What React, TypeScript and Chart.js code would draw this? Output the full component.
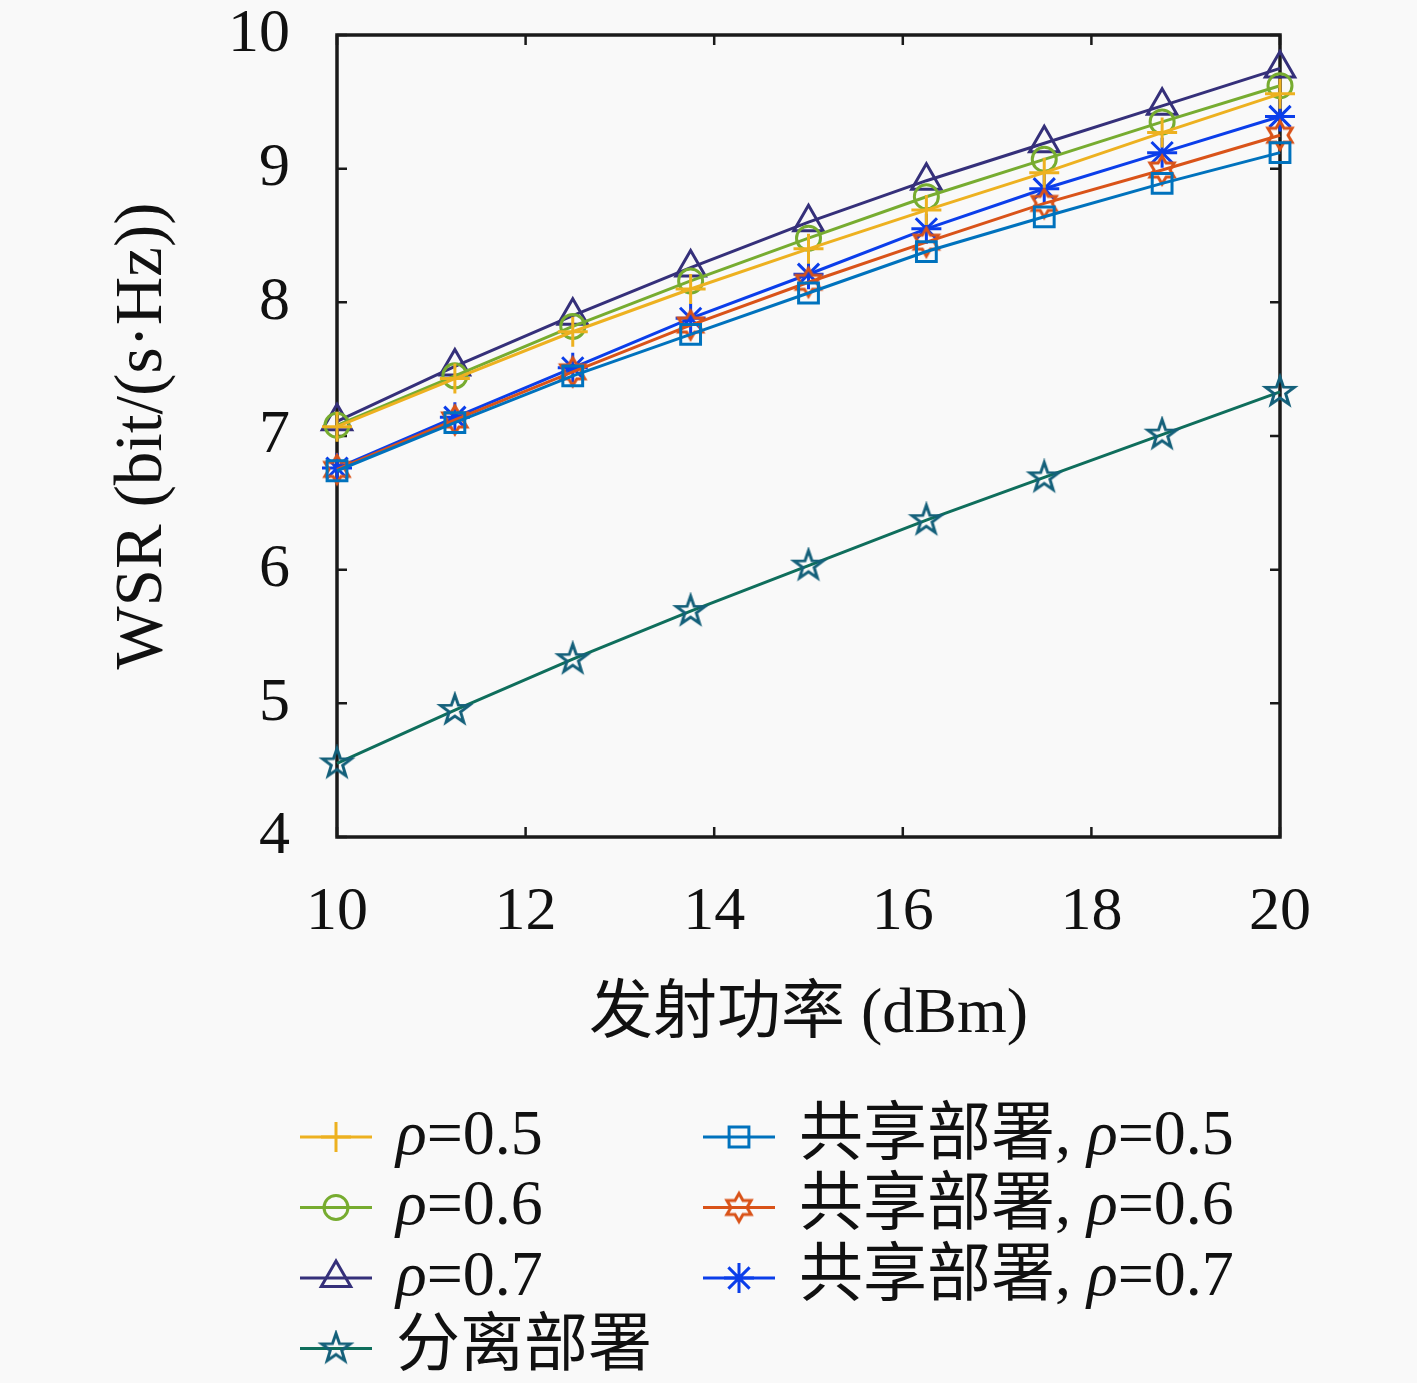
import { useEffect, useRef } from "react";
import { Chart, registerables } from "chart.js";
import { drawPoint } from "chart.js/helpers";

Chart.register(...registerables);

// transmit power (dBm)
const power = [10, 11.25, 12.5, 13.75, 15, 16.25, 17.5, 18.75, 20];

// WSR values, bit/(s·Hz)
const rho05 = [7.07, 7.43, 7.78, 8.1, 8.4, 8.69, 8.97, 9.27, 9.56];
const rho06 = [7.08, 7.45, 7.82, 8.16, 8.48, 8.79, 9.07, 9.35, 9.62];
const rho07 = [7.11, 7.52, 7.9, 8.26, 8.6, 8.91, 9.19, 9.47, 9.75];
const shared05 = [6.74, 7.1, 7.45, 7.76, 8.07, 8.38, 8.64, 8.89, 9.12];
const shared06 = [6.75, 7.12, 7.48, 7.83, 8.15, 8.45, 8.74, 8.99, 9.25];
const shared07 = [6.76, 7.14, 7.51, 7.88, 8.21, 8.55, 8.85, 9.12, 9.39];
const separate = [4.55, 4.95, 5.33, 5.69, 6.03, 6.37, 6.69, 7.01, 7.33];

const labels = [
  "ρ=0.5",
  "ρ=0.6",
  "ρ=0.7",
  "分离部署",
  "共享部署, ρ=0.5",
  "共享部署, ρ=0.6",
  "共享部署, ρ=0.7",
];

const SERIF = "'Liberation Serif', 'Noto Sans CJK SC', serif";
const INK = "#111111";

function starCanvas(points: number, outer: number, inner: number, color: string, lw: number) {
  const size = Math.ceil(outer * 2 + lw * 2 + 2);
  const c = document.createElement("canvas");
  c.width = size;
  c.height = size;
  const g = c.getContext("2d")!;
  g.translate(size / 2, size / 2);
  g.beginPath();
  for (let k = 0; k < points * 2; k++) {
    const r = k % 2 ? inner : outer;
    const a = -Math.PI / 2 + (k * Math.PI) / points;
    g.lineTo(r * Math.cos(a), r * Math.sin(a));
  }
  g.closePath();
  g.strokeStyle = color;
  g.lineWidth = lw;
  g.stroke();
  return c;
}

const toXY = (ys: number[]) => ys.map((v, i) => ({ x: power[i], y: v }));

// draw text where "ρ" is set in italic
function richText(ctx: CanvasRenderingContext2D, text: string, x: number, y: number, size: number) {
  const parts = text.split(/(ρ)/);
  let cx = x;
  for (const p of parts) {
    if (!p) continue;
    ctx.font = p === "ρ" ? `italic ${size}px ${SERIF}` : `${size}px ${SERIF}`;
    ctx.fillText(p, cx, y);
    cx += ctx.measureText(p).width;
  }
}

const boxPlugin = {
  id: "boxTicks",
  beforeDatasetsDraw(chart: any) {
    const { ctx, chartArea, scales } = chart;
    const { left, right, top, bottom } = chartArea;
    ctx.save();
    ctx.strokeStyle = "#1a1a1a";
    ctx.lineWidth = 2.5;
    ctx.beginPath();
    for (const t of scales.x.ticks) {
      const px = scales.x.getPixelForValue(t.value);
      ctx.moveTo(px, bottom);
      ctx.lineTo(px, bottom - 10);
      ctx.moveTo(px, top);
      ctx.lineTo(px, top + 10);
    }
    for (const t of scales.y.ticks) {
      const py = scales.y.getPixelForValue(t.value);
      ctx.moveTo(left, py);
      ctx.lineTo(left + 10, py);
      ctx.moveTo(right, py);
      ctx.lineTo(right - 10, py);
    }
    ctx.stroke();
    ctx.lineWidth = 3.5;
    ctx.strokeRect(left, top, right - left, bottom - top);
    ctx.restore();
  },
};

// [column, row] of every dataset in the legend under the plot
const legendSlots = [
  [0, 0],
  [0, 1],
  [0, 2],
  [0, 3],
  [1, 0],
  [1, 1],
  [1, 2],
];

const legendPlugin = {
  id: "gridLegend",
  afterDraw(chart: any) {
    const { ctx, chartArea } = chart;
    ctx.save();
    chart.data.datasets.forEach((ds: any, i: number) => {
      const [col, row] = legendSlots[i];
      const x = chartArea.left - 37 + col * 403;
      const y = chartArea.bottom + 300 + row * 70.5;
      ctx.strokeStyle = ds.borderColor;
      ctx.lineWidth = ds.borderWidth;
      ctx.beginPath();
      ctx.moveTo(x, y);
      ctx.lineTo(x + 72, y);
      ctx.stroke();
      ctx.strokeStyle = ds.pointBorderColor;
      ctx.fillStyle = "rgba(0,0,0,0)";
      ctx.lineWidth = ds.pointBorderWidth;
      drawPoint(
        ctx,
        { pointStyle: ds.pointStyle, radius: ds.pointRadius, borderWidth: ds.pointBorderWidth, rotation: 0 },
        x + 36,
        y
      );
      ctx.fillStyle = INK;
      ctx.textBaseline = "middle";
      ctx.textAlign = "left";
      richText(ctx, ds.label, x + 96, y, 64);
    });
    ctx.restore();
  },
};

const App = () => {
  const chartRef = useRef<HTMLCanvasElement | null>(null);

  useEffect(() => {
    document.body.style.margin = "0";
    document.body.style.background = "#f9f9f9";
    const ctx = chartRef.current?.getContext("2d");
    if (!ctx) return;

    const hexagram = starCanvas(6, 14, 8, "#D95319", 3);
    const pentagram = starCanvas(5, 15, 6, "#14607A", 3);

    const series = [
      { data: rho05, color: "#EDB120", marker: "cross", r: 15 },
      { data: rho06, color: "#77AC30", marker: "circle", r: 12 },
      { data: rho07, color: "#35307A", marker: "triangle", r: 17 },
      { data: separate, color: "#0F6E5C", marker: pentagram, r: 15, markerColor: "#14607A" },
      { data: shared05, color: "#0072BD", marker: "rect", r: 14 },
      { data: shared06, color: "#D95319", marker: hexagram, r: 14 },
      { data: shared07, color: "#0B3EEA", marker: "star", r: 15 },
    ];

    const tickFont = { family: SERIF, size: 62 };

    const chart = new Chart(ctx, {
      type: "line",
      data: {
        datasets: series.map((s, i) => ({
          label: labels[i],
          data: toXY(s.data),
          borderColor: s.color,
          borderWidth: 3,
          pointStyle: s.marker as any,
          pointRadius: s.r,
          pointBorderColor: (s as any).markerColor || s.color,
          pointBackgroundColor: "rgba(0,0,0,0)",
          pointBorderWidth: 3,
          clip: false as any,
          tension: 0,
        })),
      },
      options: {
        animation: false,
        responsive: true,
        maintainAspectRatio: false,
        layout: { padding: { left: 0, right: 137, top: 35, bottom: 329 } },
        plugins: {
          legend: { display: false },
          tooltip: { enabled: false },
        },
        scales: {
          x: {
            type: "linear",
            min: 10,
            max: 20,
            ticks: { stepSize: 2, padding: 39, font: tickFont, color: INK },
            grid: { display: false, drawTicks: false },
            border: { display: false },
            title: {
              display: true,
              text: "发射功率 (dBm)",
              font: { family: SERIF, size: 64 },
              color: INK,
              padding: 0,
            },
            afterFit: (s: any) => {
              s.height = 217;
              s.paddingLeft = 0;
              s.paddingRight = 0;
            },
          },
          y: {
            min: 4,
            max: 10,
            ticks: { stepSize: 1, padding: 47, font: tickFont, color: INK },
            grid: { display: false, drawTicks: false },
            border: { display: false },
            title: {
              display: true,
              text: "WSR (bit/(s·Hz))",
              font: { family: SERIF, size: 67 },
              color: INK,
              padding: { top: 103, bottom: 0 },
            },
            afterFit: (s: any) => {
              s.width = 337;
              s.paddingTop = 0;
              s.paddingBottom = 0;
            },
          },
        },
      },
      plugins: [boxPlugin, legendPlugin],
    });

    return () => {
      chart.destroy();
    };
  }, []);

  return (
    <div style={{ width: 1417, height: 1383, position: "relative" }}>
      <canvas ref={chartRef} />
    </div>
  );
};

export default App;
